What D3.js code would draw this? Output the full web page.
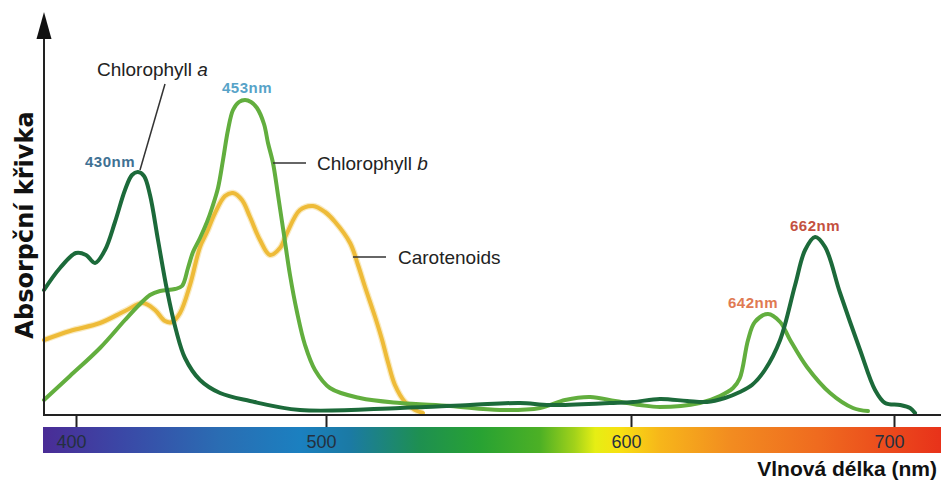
<!DOCTYPE html>
<html>
<head>
<meta charset="utf-8">
<script src="https://cdnjs.cloudflare.com/ajax/libs/d3/7.8.5/d3.min.js"></script>
<style>
  body { margin: 0; background: #fff; }
  svg { display: block; font-family: "Liberation Sans", Arial, sans-serif; }
</style>
</head>
<body>
<svg id="chart" width="941" height="483"></svg>
<script>
// wavelength (nm) and relative absorbance
var chlANm = [387.2, 393.6, 400, 404, 407.6, 411.6, 415.6, 419.6, 422.4, 424.8, 427.2, 429.6, 432.8, 436.4, 440, 443.6, 449.6, 457.6, 469.6, 489.6, 524.3, 547.2, 563.6, 573.4, 593.1, 600.8, 611, 621.3, 628.9, 635.7, 641.4, 646, 650.9, 656.7, 662.4, 666.2, 670, 673.8, 679.5, 687.1, 692.8, 696.6, 702.3, 706.1, 708];
var chlAVal = [31.25, 36.75, 40.5, 40, 38, 41.25, 48.25, 56.25, 60, 60.75, 59.75, 55, 43.75, 31.25, 21.25, 14.25, 8.75, 5.5, 3.5, 1.25, 1.75, 2.5, 3, 2.5, 3, 3.25, 4, 3.5, 3.25, 4.25, 5.75, 7.5, 11.25, 18.75, 32.5, 41.25, 44.5, 42, 30.5, 16.25, 6.25, 3, 2.5, 1.75, 0.5];

var chlBNm = [387.2, 397.6, 409.6, 419.6, 425.6, 429.6, 433.6, 439.6, 442.4, 444.8, 446.8, 449.6, 452.4, 454.4, 456.8, 458.8, 460.8, 462.8, 465.2, 467.6, 470, 472.4, 475.2, 476.8, 478.8, 480.8, 483.2, 485.6, 488.4, 491.6, 495.6, 501.3, 511.1, 524.3, 540.7, 557, 570.2, 578.4, 586.6, 594.8, 603.4, 611, 626.2, 633.8, 638.8, 641.4, 644.5, 647.1, 652.1, 656.7, 660.5, 666.9, 675.7, 684.4, 690.1];
var chlBVal = [3.75, 9.75, 16.75, 23.75, 27.75, 30, 31, 31.5, 32.25, 36.75, 40.75, 44.25, 48.25, 51.75, 56.75, 63.75, 71.25, 76.25, 78.25, 78.75, 78.25, 76.75, 72.75, 68, 63, 55, 45, 35, 25.75, 17.5, 11.25, 6.75, 4.25, 3, 2.25, 1.25, 1.75, 3.75, 4.5, 3.5, 2.5, 2, 3, 4.75, 6.75, 9.25, 18.75, 23.25, 25.25, 23.25, 18.75, 12, 5.5, 1.75, 1];

var carNm = [387.2, 397.6, 409.6, 419.6, 426.8, 431.6, 435.6, 438.4, 441.6, 445.6, 449.6, 452.4, 455.6, 459.6, 462.8, 466.4, 469.6, 473.6, 477.6, 481.6, 484.4, 489.6, 494.8, 499.6, 503, 507.9, 510.5, 512.8, 516.1, 518.4, 520.3, 522.6, 525.9, 529.2, 531.8];
var carVal = [18.75, 21, 23, 26, 28, 26.25, 23.5, 23.25, 25.5, 32.5, 42, 45.75, 50.5, 54.75, 55.5, 53.75, 49.5, 43.75, 40, 41.75, 45.5, 51.25, 52.25, 50.75, 48.25, 43, 37.5, 32, 24.5, 18.75, 13.25, 7.5, 3.25, 1.25, 0.5];

var tickValues = [400, 500, 600, 700];
var peakLabels = ["430nm", "453nm", "642nm", "662nm"];
var seriesNames = ["Chlorophyll", "Chlorophyll", "Carotenoids"];

var svg = d3.select("#chart");

// the printed axis is not evenly spaced, so a piecewise scale
var x = d3.scaleLinear()
  .domain(tickValues)
  .range([76, 326, 631, 894]);

var y = d3.scaleLinear()
  .domain([0, 100])
  .range([415, 15]);

// spectrum strip
var grad = svg.append("defs").append("linearGradient")
  .attr("id", "spectrum")
  .attr("x1", "0%").attr("x2", "100%");

[[0, "#4a2c96"], [0.086, "#3b47a6"], [0.197, "#2a6db3"], [0.286, "#1b80c0"],
 [0.342, "#1b7aa4"], [0.42, "#1e9050"], [0.487, "#28a233"], [0.553, "#4cb025"],
 [0.592, "#a2d21a"], [0.615, "#e6ee14"], [0.643, "#f8e012"], [0.687, "#f7b61a"],
 [0.765, "#f28c20"], [0.865, "#ef6a1f"], [1, "#e8321a"]].forEach(function(s) {
  grad.append("stop").attr("offset", s[0]).attr("stop-color", s[1]);
});

svg.append("rect")
  .attr("x", 43).attr("y", 427)
  .attr("width", 898).attr("height", 26)
  .attr("fill", "url(#spectrum)");

// curves
var line = d3.line()
  .x(function(d) { return x(d[0]); })
  .y(function(d) { return y(d[1]); })
  .curve(d3.curveCatmullRom.alpha(0.5));

var car = d3.zip(carNm, carVal);
var chlB = d3.zip(chlBNm, chlBVal);
var chlA = d3.zip(chlANm, chlAVal);

svg.append("path")
  .attr("d", line(car))
  .attr("fill", "none")
  .attr("stroke", "#f5dc96")
  .attr("stroke-opacity", 0.6)
  .attr("stroke-width", 6.5)
  .attr("stroke-linejoin", "round");

svg.append("path")
  .attr("d", line(car))
  .attr("fill", "none")
  .attr("stroke", "#eebb38")
  .attr("stroke-width", 4)
  .attr("stroke-linecap", "round");

svg.append("path")
  .attr("d", line(chlB))
  .attr("fill", "none")
  .attr("stroke", "#62ae3e")
  .attr("stroke-width", 4)
  .attr("stroke-linecap", "round");

svg.append("path")
  .attr("d", line(chlA))
  .attr("fill", "none")
  .attr("stroke", "#1c6a3a")
  .attr("stroke-width", 4)
  .attr("stroke-linecap", "round");

// axes
svg.append("line")
  .attr("x1", 44).attr("x2", 941)
  .attr("y1", 415).attr("y2", 415)
  .attr("stroke", "#222").attr("stroke-width", 2);

svg.append("line")
  .attr("x1", 44).attr("x2", 44)
  .attr("y1", 416).attr("y2", 30)
  .attr("stroke", "#222").attr("stroke-width", 2);

svg.append("path")
  .attr("d", "M44,12 L36.5,39 L51.5,39 Z")
  .attr("fill", "#111");

var xAxis = svg.append("g")
  .attr("transform", "translate(0,415)")
  .call(d3.axisBottom(x).tickValues(tickValues).tickSize(12).tickPadding(8));

xAxis.select(".domain").remove();
xAxis.selectAll(".tick line").attr("stroke", "#222").attr("stroke-width", 2);
xAxis.selectAll(".tick text")
  .attr("x", -5)
  .attr("fill", "#24303f")
  .style("font-size", "18px")
  .style("font-family", "'Liberation Sans', Arial, sans-serif");

svg.append("text")
  .attr("x", 937).attr("y", 476)
  .attr("text-anchor", "end")
  .attr("font-size", 21)
  .attr("font-weight", "bold")
  .attr("fill", "#111")
  .text("Vlnová délka (nm)");

svg.append("text")
  .attr("transform", "translate(33,225) rotate(-90)")
  .attr("text-anchor", "middle")
  .attr("font-family", "'DejaVu Sans', sans-serif")
  .attr("font-size", 24)
  .attr("font-weight", "bold")
  .attr("fill", "#111")
  .text("Absorpční křivka");

// series names with leader lines
var leader = svg.append("g").attr("stroke", "#333").attr("stroke-width", 1.5);
leader.append("line").attr("x1", 165).attr("y1", 84).attr("x2", 140).attr("y2", 170);
leader.append("line").attr("x1", 273).attr("y1", 163).attr("x2", 306).attr("y2", 163);
leader.append("line").attr("x1", 353).attr("y1", 257).attr("x2", 386).attr("y2", 257);

var nameA = svg.append("text").attr("x", 97).attr("y", 76)
  .attr("font-size", 19).attr("fill", "#222").text(seriesNames[0] + " ");
nameA.append("tspan").attr("font-style", "italic").text("a");

var nameB = svg.append("text").attr("x", 317).attr("y", 170)
  .attr("font-size", 19).attr("fill", "#222").text(seriesNames[1] + " ");
nameB.append("tspan").attr("font-style", "italic").text("b");

svg.append("text").attr("x", 398).attr("y", 264)
  .attr("font-size", 19).attr("fill", "#222").text(seriesNames[2]);

// peak labels
var peakPos = [[85, 167, "#3f7193"], [222, 93, "#57a3c8"], [728, 308, "#e07a52"], [790, 231, "#c4513f"]];
peakLabels.forEach(function(t, i) {
  svg.append("text")
    .attr("x", peakPos[i][0]).attr("y", peakPos[i][1])
    .attr("font-size", 15)
    .attr("font-weight", "bold")
    .attr("letter-spacing", 0.5)
    .attr("fill", peakPos[i][2])
    .text(t);
});
</script>
</body>
</html>
